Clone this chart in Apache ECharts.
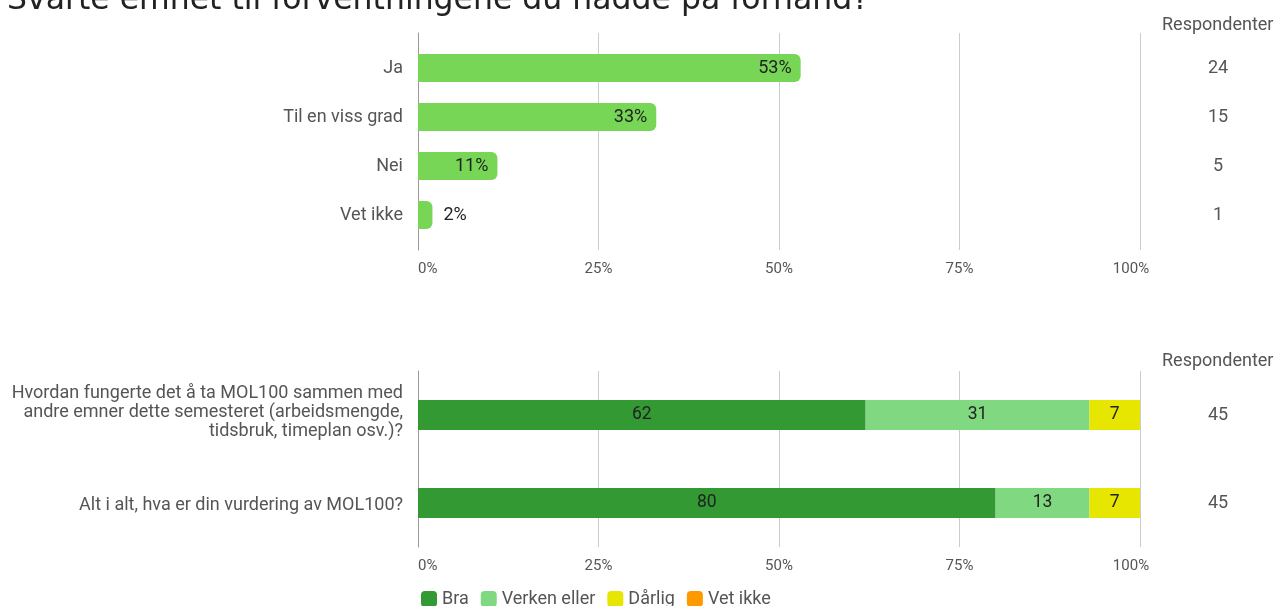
<!DOCTYPE html>
<html>
<head>
<meta charset="utf-8">
<script src="https://cdn.jsdelivr.net/npm/echarts@6/dist/echarts.min.js"></script>
<style>
  html, body { margin: 0; padding: 0; background: #fff; }
  #chart { width: 1276px; height: 606px; }
</style>
</head>
<body>
<div id="chart"></div>
<script>
// data
var title = 'Svarte emnet til forventningene du hadde på forhånd?';
var topCategories = ['Ja', 'Til en viss grad', 'Nei', 'Vet ikke'];
var topPercent = [53, 33, 11, 2];
var topRespondents = [24, 15, 5, 1];

var bottomCategories = [
    'Hvordan fungerte det å ta MOL100 sammen med\nandre emner dette semesteret (arbeidsmengde,\ntidsbruk, timeplan osv.)?',
    'Alt i alt, hva er din vurdering av MOL100?'
];
var bottomRespondents = [45, 45];
var seriesNames = ['Bra', 'Verken eller', 'Dårlig', 'Vet ikke'];
var bra = [62, 80];
var verken = [31, 13];
var darlig = [7, 7];
var vetIkke = [0, 0];

var xTicks = [0, 25, 50, 75, 100];

var font = 'Roboto';
var grey = '#555';
var colors = ['#339933', '#80d880', '#e6e600', '#ff9900'];

var myChart = echarts.init(document.getElementById('chart'));

function axisX(gridIndex, show) {
    return {
        type: 'value', gridIndex: gridIndex, min: xTicks[0], max: xTicks[xTicks.length - 1],
        interval: xTicks[1] - xTicks[0], show: show,
        axisLine: {show: false}, axisTick: {show: false},
        splitLine: {show: show, lineStyle: {color: '#cccccc', width: 1}},
        axisLabel: {
            color: grey, fontFamily: font, fontSize: 15, margin: 12, alignMinLabel: 'left',
            formatter: function (v) {
                return v === xTicks[xTicks.length - 1] ? '{last|' + v + '%}' : v + '%';
            },
            rich: {last: {color: grey, fontFamily: font, fontSize: 15, padding: [0, 18, 0, 0]}}
        }
    };
}

var topData = topPercent.map(function (v) {
    var item = {value: v};
    if (v < 5) {
        item.label = {position: 'right', distance: 11};
    }
    return item;
});

var stackData = [bra, verken, darlig, vetIkke];

var bottomSeries = seriesNames.map(function (name, i) {
    return {
        name: name, type: 'bar', stack: 'all', xAxisIndex: 2, yAxisIndex: 3,
        barWidth: 30, data: stackData[i],
        itemStyle: {color: colors[i]},
        label: {
            show: true, position: 'inside', color: '#222', fontFamily: font, fontSize: 17.5,
            padding: [4, 0, 0, 0],
            formatter: function (p) { return p.value ? p.value : ''; }
        }
    };
});

var yLabel = {color: grey, fontFamily: font, fontSize: 18, padding: [4, 0, 0, 0]};

var option = {
    backgroundColor: '#ffffff',
    animation: false,
    title: [
        {text: title, left: 2, top: -20,
            textStyle: {fontFamily: 'DejaVu Sans', fontSize: 31.5, fontWeight: 'normal', color: '#222', lineHeight: 32}},
        {text: 'Respondenter', left: 1157, top: 11,
            textStyle: {fontFamily: font, fontSize: 18, fontWeight: 'normal', color: grey}},
        {text: 'Respondenter', left: 1157, top: 347,
            textStyle: {fontFamily: font, fontSize: 18, fontWeight: 'normal', color: grey}}
    ],
    legend: {
        data: seriesNames, left: 416, top: 585, icon: 'roundRect',
        itemWidth: 16, itemHeight: 16, itemGap: 12,
        textStyle: {fontFamily: font, fontSize: 18, color: grey}
    },
    grid: [
        {left: 418, right: 136, top: 33, height: 217},
        {left: 418, right: 136, top: 43.5, height: 196},
        {left: 418, right: 136, top: 371, height: 176}
    ],
    xAxis: [axisX(0, true), axisX(1, false), axisX(2, true)],
    yAxis: [
        {type: 'value', gridIndex: 0, axisLabel: {show: false}, splitLine: {show: false},
            axisLine: {show: true, lineStyle: {color: '#999'}}},
        {type: 'category', gridIndex: 1, inverse: true, data: topCategories,
            axisLine: {show: false}, axisTick: {show: false},
            axisLabel: Object.assign({margin: 15}, yLabel)},
        {type: 'category', gridIndex: 1, inverse: true, position: 'right', data: topRespondents,
            axisLine: {show: false}, axisTick: {show: false},
            axisLabel: Object.assign({margin: 78, align: 'center'}, yLabel)},
        {type: 'category', gridIndex: 2, inverse: true, data: bottomCategories,
            axisLine: {show: true, lineStyle: {color: '#999'}}, axisTick: {show: false},
            axisLabel: Object.assign({
                margin: 15, align: 'right',
                formatter: function (v) {
                    if (v.indexOf('\n') < 0) return v;
                    return '{multi|' + v.split('\n').join('}\n{multi|') + '}\n{gap|}';
                },
                rich: {
                    multi: {fontFamily: font, fontSize: 18, color: grey, lineHeight: 19},
                    gap: {fontSize: 1, lineHeight: 10}
                }
            }, yLabel)},
        {type: 'category', gridIndex: 2, inverse: true, position: 'right', data: bottomRespondents,
            axisLine: {show: false}, axisTick: {show: false},
            axisLabel: Object.assign({margin: 78, align: 'center'}, yLabel)}
    ],
    series: [
        {
            name: 'Andel', type: 'bar', xAxisIndex: 1, yAxisIndex: 1,
            barWidth: 28, data: topData,
            itemStyle: {color: '#77d655', borderRadius: [0, 6, 6, 0]},
            label: {show: true, position: 'insideRight', distance: 9, color: '#222',
                fontFamily: font, fontSize: 18, padding: [4, 0, 0, 0], formatter: '{c}%'}
        }
    ].concat(bottomSeries)
};

myChart.setOption(option);
</script>
</body>
</html>
